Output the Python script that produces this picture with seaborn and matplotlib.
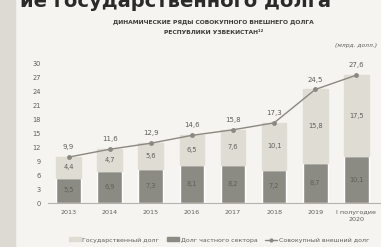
import matplotlib
matplotlib.use("Agg")
import matplotlib.pyplot as plt
import seaborn as sns
import numpy as np
import pandas as pd
from matplotlib.patches import Rectangle
from matplotlib.lines import Line2D

categories = ["2013", "2014", "2015", "2016", "2017", "2018", "2019", "I полугодие\n2020"]
private_debt = [5.5, 6.9, 7.3, 8.1, 8.2, 7.2, 8.7, 10.1]
state_debt = [4.4, 4.7, 5.6, 6.5, 7.6, 10.1, 15.8, 17.5]
total_debt = [9.9, 11.6, 12.9, 14.6, 15.8, 17.3, 24.5, 27.6]
yticks = [0, 3, 6, 9, 12, 15, 18, 21, 24, 27, 30]

sns.set_theme(style="white")
plt.rcParams['font.family'] = ['DejaVu Sans']

dark = "#8c8b83"
light = "#dedcd3"
line_c = "#8a8880"
txt = "#5e5d58"

fig = plt.figure(figsize=(3.81, 2.47), dpi=100)
fig.patch.set_facecolor("#f5f4f0")
fig.patches.append(Rectangle((0, 0), 0.04, 1, transform=fig.transFigure, color="#dcdad2", zorder=0))
ax = fig.add_axes([48/381, 1-203/247, 333/381, 139/247])
ax.set_facecolor("#f5f4f0")

df = pd.DataFrame({"cat": categories, "private": private_debt, "state": state_debt, "total": total_debt})
x = np.arange(len(categories))

sns.barplot(data=df, x="cat", y="private", color=dark, width=0.6, ax=ax, saturation=1)
ax.bar(x, df["state"], bottom=df["private"], width=0.6, color=light, edgecolor=light)
sns.lineplot(x=x, y=df["total"], ax=ax, color=line_c, marker="o", markersize=3.5, linewidth=1.0, markeredgewidth=0)

for i in range(len(x)):
    ax.text(x[i], private_debt[i]/2, f"{private_debt[i]:.1f}".replace(".", ","), ha="center", va="center", fontsize=4.8, color=txt)
    ax.text(x[i], private_debt[i] + state_debt[i]/2, f"{state_debt[i]:.1f}".replace(".", ","), ha="center", va="center", fontsize=4.8, color=txt)
    ax.text(x[i], total_debt[i] + 1.5, f"{total_debt[i]:.1f}".replace(".", ","), ha="center", va="bottom", fontsize=5, color=txt)

ax.set_xlim(-0.5, 7.6)
ax.set_ylim(0, 30)
ax.set_yticks(yticks)
ax.set_yticklabels([str(t) for t in yticks], fontsize=4.8, color=txt)
ax.set_xticks(x)
ax.set_xticklabels(categories, fontsize=4.6, color=txt, linespacing=1.4)
ax.tick_params(axis="both", length=0, pad=5)
ax.set_xlabel("")
ax.set_ylabel("")
for s in ["top", "right", "left"]:
    ax.spines[s].set_visible(False)
ax.spines["bottom"].set_color("#b5b3ab")
ax.spines["bottom"].set_linewidth(0.8)

fig.text(0.46, 0.995, "ие государственного долга", ha="center", va="center", fontsize=14, fontweight="bold", color="#2a2a28")
fig.text(0.56, 1-22/247, "ДИНАМИЧЕСКИЕ РЯДЫ СОВОКУПНОГО ВНЕШНЕГО ДОЛГА", ha="center", va="center", fontsize=4.3, fontweight="bold", color="#3a3a36")
fig.text(0.56, 1-33/247, "РЕСПУБЛИКИ УЗБЕКИСТАН¹²", ha="center", va="center", fontsize=4.3, fontweight="bold", color="#3a3a36")
fig.text(0.99, 1-46/247, "(млрд. долл.)", ha="right", va="center", fontsize=4.3, style="italic", color="#5e5d58")

handles = [Rectangle((0, 0), 1, 1, color=light), Rectangle((0, 0), 1, 1, color=dark),
           Line2D([0], [0], color=line_c, marker="o", markersize=3, linewidth=1, markeredgewidth=0)]
labels = ["Государственный долг", "Долг частного сектора", "Совокупный внешний долг"]
fig.legend(handles, labels, loc="center", bbox_to_anchor=(0.575, 1-240/247), ncol=3, frameon=False,
           fontsize=4.5, handlelength=1.8, handleheight=0.6, columnspacing=1.3, handletextpad=0.3,
           labelcolor=txt)

fig.savefig("out.png", dpi=100, facecolor=fig.get_facecolor())
